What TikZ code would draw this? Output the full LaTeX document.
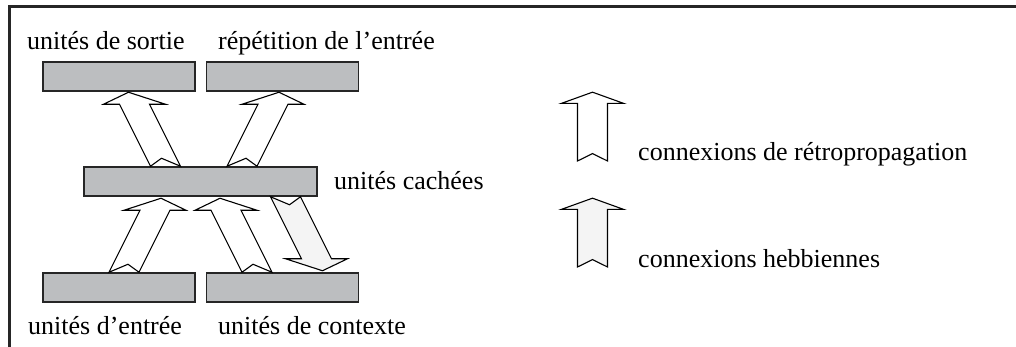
\documentclass[tikz,border=0pt]{standalone}
\usepackage{fontspec}
\setmainfont{Liberation Serif}
\definecolor{layergray}{HTML}{BCBEC0}
\definecolor{hebbgray}{HTML}{F4F4F4}
\tikzset{
  fatarrow/.pic={
    \draw[pic actions, line width=1.1pt, line join=miter]
      (-15,0) -- (0,8) -- (15,0) -- (15,62) -- (31,62) -- (0,74)
      -- (-31,62) -- (-15,62) -- cycle;
  }
}
\begin{document}
\begin{tikzpicture}[x=1pt, y=1pt,
  every node/.style={font=\fontsize{26}{30}\selectfont},
  layer/.style={draw=black!85, fill=layergray, line width=1.5pt, minimum width=152pt, minimum height=29pt, inner sep=0pt},
  tag/.style={anchor=base west, inner sep=0pt}]
\useasboundingbox (0,0) rectangle (1016,-347);
\draw[line width=3pt, black!85] (9,-347) |- (1016,-6.5);
% layers
\node[layer] (sortie) at (119,-76.5) {};
\node[layer] (repet) at (282.5,-76.5) {};
\node[layer, minimum width=233pt] (cachee) at (200.5,-181.5) {};
\node[layer] (entree) at (119,-287.5) {};
\node[layer] (contexte) at (282.5,-287.5) {};
% layer names
\node[tag] (lsortie) at (27,-50) {unités de sortie};
\node[tag] (lrepet) at (218,-50) {répétition de l’entrée};
\node[tag] (lcachee) at (334,-190) {unités cachées};
\node[tag] (lentree) at (28,-334) {unités d’entrée};
\node[tag] (lcontexte) at (218,-334) {unités de contexte};
% backprop connections
\pic[fill=white, xslant=-0.5] at ([xshift=-35pt]cachee.north) {fatarrow};
\pic[fill=white, xslant=0.5] at ([xshift=41.5pt]cachee.north) {fatarrow};
\pic[fill=white, xslant=0.5] at ([xshift=5pt]entree.north) {fatarrow};
\pic[fill=white, xslant=-0.5] at ([xshift=-25.5pt]contexte.north) {fatarrow};
% hebbian connection
\pic[fill=hebbgray, rotate=180, xslant=-0.5] at ([xshift=85pt]cachee.south) {fatarrow};
% legend
\pic[fill=white, yscale=0.93] at (592.5,-161) {fatarrow};
\node[tag] (lretro) at (638,-161) {connexions de rétropropagation};
\pic[fill=hebbgray, yscale=0.93] at (592.5,-267) {fatarrow};
\node[tag] (lhebb) at (638,-267) {connexions hebbiennes};
\end{tikzpicture}
\end{document}
